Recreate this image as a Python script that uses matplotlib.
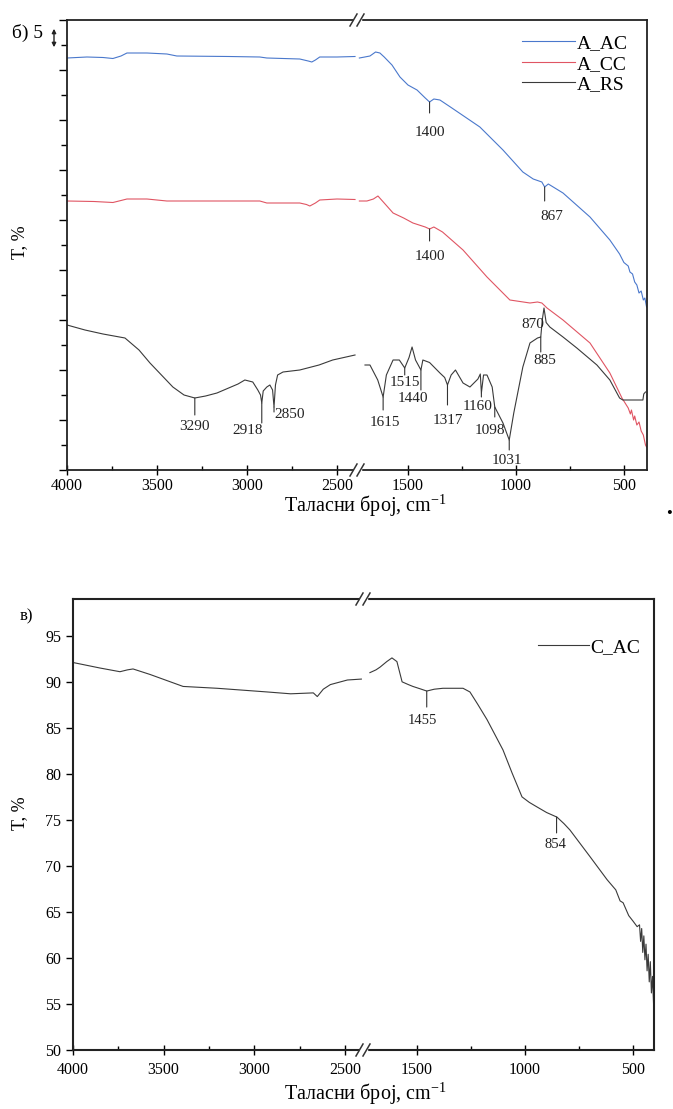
import numpy as np
import matplotlib
matplotlib.use('Agg')
from matplotlib import pyplot as plt
from matplotlib.lines import Line2D
from matplotlib.patches import Rectangle, FancyArrowPatch
from matplotlib.ticker import FixedLocator, MultipleLocator, NullFormatter

plt.rcParams['font.family'] = ['Liberation Serif', 'DejaVu Serif']
plt.rcParams['mathtext.fontset'] = 'stix'

W, H = 673, 1109

# ---------- panel б ----------
# high-wavenumber segment (4000-2400) and fingerprint segment (1750-400)
ac_wn_hi = [4000, 3889, 3800, 3745, 3700, 3667, 3556, 3445, 3390, 3100, 2929, 2890, 2707, 2660, 2640, 2620, 2596, 2500, 2400]
ac_hi = [82.4, 82.6, 82.5, 82.3, 82.8, 83.4, 83.4, 83.2, 82.8, 82.7, 82.6, 82.4, 82.2, 81.8, 81.6, 82.0, 82.6, 82.6, 82.7]
ac_wn_lo = [1725, 1700, 1676, 1650, 1630, 1610, 1574, 1537, 1500, 1458, 1420, 1400, 1380, 1352, 1300, 1167, 1060, 968,
            920, 880, 867, 850, 782, 657, 565, 520, 500, 480, 472, 460, 450, 440, 430, 420, 410, 403, 395]
ac_lo = [82.4, 82.6, 82.8, 83.6, 83.4, 82.6, 81.0, 78.6, 77.0, 76.0, 74.4, 73.6, 74.2, 74.0, 72.5, 68.6, 64.0, 59.6,
         58.2, 57.6, 56.6, 57.2, 55.4, 50.6, 46.0, 43.2, 41.5, 40.8, 39.6, 39.2, 37.6, 37.0, 35.4, 35.8, 34.0, 34.4, 32.6]

cc_wn_hi = [4000, 3850, 3745, 3700, 3667, 3556, 3445, 3100, 2929, 2890, 2707, 2670, 2651, 2620, 2596, 2500, 2400]
cc_hi = [53.8, 53.7, 53.5, 53.9, 54.2, 54.2, 53.8, 53.8, 53.8, 53.4, 53.4, 53.1, 52.8, 53.4, 54.0, 54.2, 54.1]
cc_wn_lo = [1725, 1690, 1660, 1639, 1610, 1569, 1520, 1477, 1420, 1400, 1380, 1340, 1245, 1134, 1028, 935, 900, 880,
            856, 782, 657, 565, 509, 480, 470, 465, 455, 450, 440, 430, 420, 410, 400, 395]
cc_lo = [53.8, 53.8, 54.2, 54.8, 53.4, 51.4, 50.4, 49.4, 48.6, 48.2, 48.6, 47.6, 44.0, 38.6, 34.0, 33.4, 33.6, 33.4,
         32.4, 30.0, 25.4, 19.4, 14.4, 12.4, 11.2, 12.0, 10.0, 10.8, 9.0, 9.6, 7.8, 7.0, 5.0, 4.6]

rs_wn_hi = [4000, 3900, 3800, 3678, 3600, 3539, 3412, 3350, 3290, 3230, 3167, 3050, 3012, 2968, 2940, 2925, 2918,
            2910, 2890, 2873, 2858, 2850, 2842, 2830, 2800, 2707, 2600, 2524, 2400]
rs_hi = [29.0, 28.0, 27.2, 26.4, 24.0, 21.4, 16.6, 15.0, 14.4, 14.8, 15.4, 17.2, 18.0, 17.6, 16.0, 15.0, 13.4,
         15.8, 16.6, 17.0, 16.0, 12.6, 17.0, 19.0, 19.6, 20.0, 21.0, 22.0, 23.0]
rs_wn_lo = [1699, 1676, 1640, 1615, 1600, 1569, 1540, 1515, 1495, 1481, 1465, 1440, 1431, 1400, 1352, 1330, 1317,
            1300, 1280, 1245, 1213, 1176, 1165, 1160, 1150, 1134, 1110, 1098, 1060, 1031, 1010, 968, 935, 900,
            885, 878, 870, 860, 843, 782, 718, 625, 565, 520, 505, 470, 440, 412, 408, 400]
rs_lo = [21.0, 21.0, 18.0, 14.6, 19.0, 22.0, 22.0, 20.4, 22.5, 24.6, 22.0, 20.0, 22.0, 21.5, 19.4, 18.5, 17.0,
         19.0, 20.0, 17.4, 16.6, 18.2, 19.2, 15.4, 19.0, 19.0, 16.6, 12.6, 9.4, 6.0, 11.4, 20.6, 25.4, 26.4,
         26.6, 30.0, 32.4, 29.5, 28.6, 26.6, 24.4, 21.0, 18.0, 14.4, 14.0, 14.0, 14.0, 14.0, 15.2, 15.6]

# band labels: (series, wavenumber, tick length px, text dx px, text dy px)
b_peaks = [('A_AC', 1400, 11, 0, 19), ('A_AC', 867, 14, 7, 15), ('A_CC', 1400, 12, 0, 15),
           ('A_RS', 3290, 17, 0, 11), ('A_RS', 2918, 20, -14, 8), ('A_RS', 2850, 5, 16, 3),
           ('A_RS', 1615, 13, 2, 12), ('A_RS', 1515, 7, 0, 7), ('A_RS', 1440, 20, -8, 8),
           ('A_RS', 1317, 20, 0, 16), ('A_RS', 1160, 4, -4, 10), ('A_RS', 1098, 10, -5, 13),
           ('A_RS', 1031, 10, -2, 11), ('A_RS', 870, 0, -11, 16), ('A_RS', 885, 15, 4, 9)]

# ---------- panel в ----------
c_wn_hi = [4000, 3851, 3741, 3700, 3669, 3575, 3393, 3205, 2929, 2800, 2675, 2653, 2620, 2581, 2487, 2410]
c_hi = [92.1, 91.5, 91.1, 91.3, 91.4, 90.8, 89.5, 89.3, 88.9, 88.7, 88.8, 88.4, 89.2, 89.7, 90.2, 90.3]
c_wn_lo = [1718, 1690, 1671, 1640, 1616, 1593, 1569, 1540, 1519, 1480, 1455, 1420, 1380, 1287, 1255, 1220, 1176,
           1102, 1060, 1014, 980, 944, 900, 852, 820, 792, 699, 620, 580, 560, 546, 520, 500, 481, 470, 465, 460,
           455, 450, 445, 440, 435, 430, 425, 420, 415, 410, 405]
c_lo = [91.0, 91.3, 91.6, 92.2, 92.6, 92.2, 90.0, 89.7, 89.5, 89.2, 89.0, 89.2, 89.3, 89.3, 88.9, 87.6, 85.9,
        82.6, 80.1, 77.5, 76.9, 76.4, 75.8, 75.3, 74.6, 73.9, 71.0, 68.5, 67.4, 66.2, 66.0, 64.6, 64.0, 63.4,
        63.6, 61.8, 63.2, 60.6, 62.4, 59.8, 61.5, 58.6, 60.4, 57.4, 59.6, 56.2, 58.0, 55.0]
c_peaks = [('C_AC', 1455, 16, -4, 13), ('C_AC', 854, 16, -1, 12)]

PT = 0.72  # points per pixel at 100 dpi

fig = plt.figure(figsize=(W / 100, H / 100), dpi=100)


def make_pair(left, right, brk, top, bottom, lim_hi, lim_lo, spine_w, pad):
    b = 1 - bottom / H
    h = (bottom - top) / H
    ax_l = fig.add_axes([left / W, b, (brk - left) / W, h])
    ax_r = fig.add_axes([brk / W, b, (right - brk) / W, h], sharey=ax_l)
    ax_l.set_xlim(*lim_hi)
    ax_r.set_xlim(*lim_lo)
    ax_l.spines['right'].set_visible(False)
    ax_r.spines['left'].set_visible(False)
    for ax in (ax_l, ax_r):
        for s in ax.spines.values():
            s.set_linewidth(spine_w)
            s.set_color('#222222')
        ax.tick_params(axis='x', which='major', direction='inout', length=7, width=1, labelsize=11.5, pad=pad)
        ax.tick_params(axis='x', which='minor', direction='in', length=3, width=1)
    ax_l.xaxis.set_major_locator(FixedLocator([4000, 3500, 3000, 2500]))
    ax_l.xaxis.set_minor_locator(FixedLocator([3750, 3250, 2750]))
    ax_r.xaxis.set_major_locator(FixedLocator([1500, 1000, 500]))
    ax_r.xaxis.set_minor_locator(FixedLocator([1250, 750]))
    ax_r.tick_params(axis='y', which='both', left=False, labelleft=False)
    # "//" break marks on the top and bottom spines
    for y in (top, bottom):
        fig.add_artist(Rectangle(((brk - 3) / W, 1 - (y + 2) / H), 7 / W, 4 / H,
                                 transform=fig.transFigure, color='white', zorder=5))
        for dx in (-3, 4):
            fig.add_artist(Line2D([(brk + dx - 4) / W, (brk + dx + 3) / W],
                                  [1 - (y + 6) / H, 1 - (y - 6) / H],
                                  transform=fig.transFigure, color='#333333', lw=1.1, zorder=6))
    return ax_l, ax_r


def label_bands(axes, series, peaks, fs):
    for name, wn, length, dx, dy in peaks:
        wn_arr, val_arr = series[name]
        yv = np.interp(wn, wn_arr[::-1], val_arr[::-1])
        ax = axes[0] if wn > 2000 else axes[1]
        if length > 0:
            ax.annotate('', xy=(wn, yv), xytext=(0, -length * PT), textcoords='offset points',
                        arrowprops=dict(arrowstyle='-', lw=0.8, color='#333333', shrinkA=0, shrinkB=0))
        ax.annotate(str(wn), xy=(wn, yv), xytext=(dx * PT, -(length + dy) * PT),
                    textcoords='offset points', ha='center', va='center', fontsize=fs, color='#222222')


xlabel = 'Таласни број, cm$^{\\mathregular{-1}}$'

# top panel
tl, tr = make_pair(67, 647, 357, 20, 470, (4000, 2389), (1736, 393), 1.3, 2)
tl.set_ylim(0, 90)
tl.yaxis.set_major_locator(MultipleLocator(10))
tl.yaxis.set_minor_locator(MultipleLocator(5))
tl.yaxis.set_major_formatter(NullFormatter())
tl.tick_params(axis='y', which='major', direction='out', length=6, width=1)
tl.tick_params(axis='y', which='minor', direction='out', length=4, width=1)

blue, red, grey = '#4a78cc', '#e05563', '#3a3a3a'
for wn, v, c in ((ac_wn_hi, ac_hi, blue), (cc_wn_hi, cc_hi, red), (rs_wn_hi, rs_hi, grey)):
    tl.plot(wn, v, color=c, lw=0.8)
lines = []
for wn, v, c, name in ((ac_wn_lo, ac_lo, blue, 'A_AC'), (cc_wn_lo, cc_lo, red, 'A_CC'), (rs_wn_lo, rs_lo, grey, 'A_RS')):
    lines += tr.plot(wn, v, color=c, lw=0.8, label=name)

b_series = {'A_AC': (np.array(ac_wn_hi + ac_wn_lo), np.array(ac_hi + ac_lo)),
            'A_CC': (np.array(cc_wn_hi + cc_wn_lo), np.array(cc_hi + cc_lo)),
            'A_RS': (np.array(rs_wn_hi + rs_wn_lo), np.array(rs_hi + rs_lo))}
label_bands((tl, tr), b_series, b_peaks, 11)

tr.legend(handles=lines, loc='upper right', bbox_to_anchor=(0.96, 0.985), frameon=False, fontsize=14,
          handlelength=2.7, handletextpad=0.1, labelspacing=0.15, borderaxespad=0)

fig.text(20 / W, 1 - 242 / H, 'T, %', rotation=90, ha='center', va='center', fontsize=13)
fig.text(365 / W, 1 - 506 / H, xlabel, ha='center', va='center', fontsize=14.5)
fig.text(12 / W, 1 - 33 / H, 'б) 5', ha='left', va='center', fontsize=14)
fig.add_artist(FancyArrowPatch((54 / W, 1 - 50 / H), (54 / W, 1 - 26 / H),
                               transform=fig.transFigure, arrowstyle='<|-|>',
                               mutation_scale=6, lw=1, color='#222222'))
fig.text(669 / W, 1 - 514 / H, '•', ha='center', va='center', fontsize=12)

# bottom panel
bl, br = make_pair(73, 654, 363, 599, 1050, (4000, 2401), (1750, 403), 1.5, 5)
bl.set_ylim(50, 99)
bl.yaxis.set_major_locator(FixedLocator([50, 55, 60, 65, 70, 75, 80, 85, 90, 95]))
bl.tick_params(axis='y', which='major', direction='out', length=5, width=1, labelsize=11.5)
bl.plot(c_wn_hi, c_hi, color=grey, lw=0.8)
c_line = br.plot(c_wn_lo, c_lo, color=grey, lw=0.8, label='C_AC')
c_series = {'C_AC': (np.array(c_wn_hi + c_wn_lo), np.array(c_hi + c_lo))}
label_bands((bl, br), c_series, c_peaks, 10.5)
br.legend(handles=c_line, loc='upper right', bbox_to_anchor=(0.98, 0.93), frameon=False, fontsize=14,
          handlelength=2.6, handletextpad=0.1, borderaxespad=0)
fig.text(20 / W, 1 - 813 / H, 'T, %', rotation=90, ha='center', va='center', fontsize=13)
fig.text(365 / W, 1 - 1094 / H, xlabel, ha='center', va='center', fontsize=14.5)
fig.text(20 / W, 1 - 616 / H, 'в)', ha='left', va='center', fontsize=12)

fig.savefig('out.png', dpi=100)
